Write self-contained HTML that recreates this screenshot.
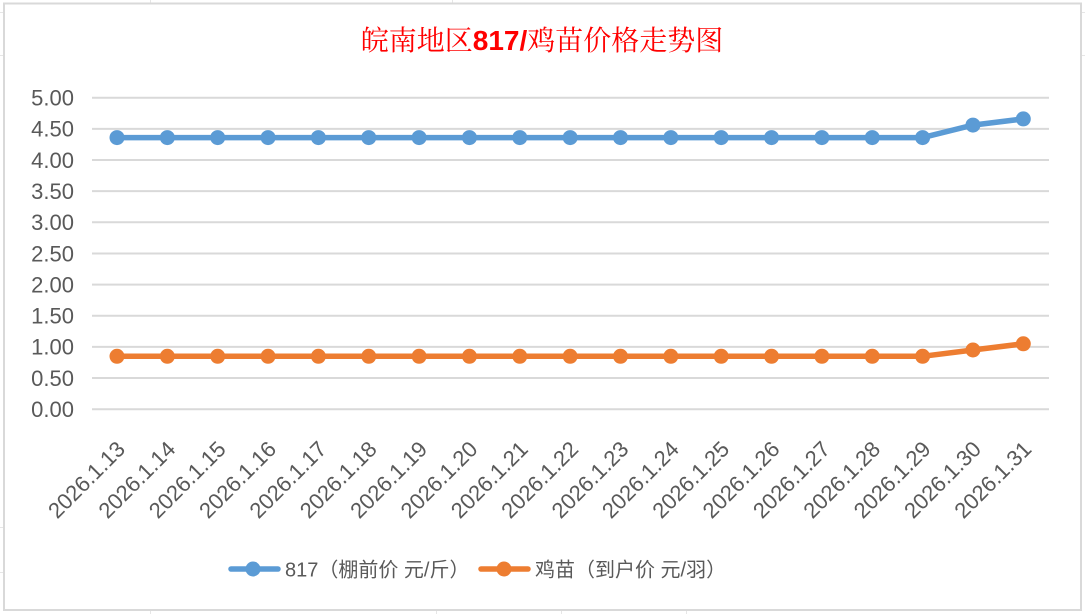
<!DOCTYPE html>
<html>
<head>
<meta charset="utf-8">
<style>
html,body{margin:0;padding:0;background:#fff;}
svg{display:block;}
</style>
</head>
<body>
<svg width="1085" height="614" viewBox="0 0 1085 614" xmlns="http://www.w3.org/2000/svg">
  <rect x="0" y="0" width="1085" height="614" fill="#fff"/>
  <!-- faint spreadsheet grid outside -->
  <g stroke="#e6e6e6" stroke-width="1">
    <line x1="150.5" y1="0" x2="150.5" y2="3"/>
    <line x1="452.5" y1="0" x2="452.5" y2="3"/>
    <line x1="0" y1="12.5" x2="3" y2="12.5"/>
    <line x1="0" y1="55.5" x2="3" y2="55.5"/>
    <line x1="0" y1="527.5" x2="3" y2="527.5"/>
    <line x1="0" y1="572.5" x2="3" y2="572.5"/>
    <line x1="1082" y1="12.5" x2="1085" y2="12.5"/>
    <line x1="1082" y1="55.5" x2="1085" y2="55.5"/>
    <line x1="150.5" y1="611" x2="150.5" y2="614"/>
    <line x1="436.5" y1="611" x2="436.5" y2="614"/>
    <line x1="561.5" y1="611" x2="561.5" y2="614"/>
    <line x1="686.5" y1="611" x2="686.5" y2="614"/>
  </g>
  <!-- chart area -->
  <rect x="4" y="3.5" width="1077" height="606.5" fill="#fff" stroke="#d9d9d9" stroke-width="2"/>

  <!-- title -->
  <text x="542" y="50" text-anchor="middle" fill="#ff0000" font-size="28" font-family="'Noto Serif CJK SC','Noto Sans CJK SC',serif">皖南地区<tspan font-family="'Liberation Sans',sans-serif" font-weight="bold">817/</tspan>鸡苗价格走势图</text>

  <!-- gridlines -->
  <g stroke="#d9d9d9" stroke-width="2">
    <line x1="92" y1="409.2" x2="1049" y2="409.2"/>
    <line x1="92" y1="378.05" x2="1049" y2="378.05"/>
    <line x1="92" y1="346.9" x2="1049" y2="346.9"/>
    <line x1="92" y1="315.75" x2="1049" y2="315.75"/>
    <line x1="92" y1="284.6" x2="1049" y2="284.6"/>
    <line x1="92" y1="253.45" x2="1049" y2="253.45"/>
    <line x1="92" y1="222.3" x2="1049" y2="222.3"/>
    <line x1="92" y1="191.15" x2="1049" y2="191.15"/>
    <line x1="92" y1="160" x2="1049" y2="160"/>
    <line x1="92" y1="128.85" x2="1049" y2="128.85"/>
    <line x1="92" y1="97.7" x2="1049" y2="97.7"/>
  </g>

  <!-- y labels -->
  <g fill="#595959" font-size="22" font-family="'Liberation Sans',sans-serif" text-anchor="end">
    <text x="74" y="417">0.00</text>
    <text x="74" y="385.85">0.50</text>
    <text x="74" y="354.7">1.00</text>
    <text x="74" y="323.55">1.50</text>
    <text x="74" y="292.4">2.00</text>
    <text x="74" y="261.25">2.50</text>
    <text x="74" y="230.1">3.00</text>
    <text x="74" y="198.95">3.50</text>
    <text x="74" y="167.8">4.00</text>
    <text x="74" y="136.65">4.50</text>
    <text x="74" y="105.5">5.00</text>
  </g>

  <!-- x labels -->
  <g fill="#595959" font-size="22" font-family="'Liberation Sans',sans-serif" text-anchor="end">
    <text transform="translate(121,445) rotate(-45)" dy="0.35em">2026.1.13</text>
    <text transform="translate(171.35,445) rotate(-45)" dy="0.35em">2026.1.14</text>
    <text transform="translate(221.7,445) rotate(-45)" dy="0.35em">2026.1.15</text>
    <text transform="translate(272.05,445) rotate(-45)" dy="0.35em">2026.1.16</text>
    <text transform="translate(322.4,445) rotate(-45)" dy="0.35em">2026.1.17</text>
    <text transform="translate(372.75,445) rotate(-45)" dy="0.35em">2026.1.18</text>
    <text transform="translate(423.1,445) rotate(-45)" dy="0.35em">2026.1.19</text>
    <text transform="translate(473.45,445) rotate(-45)" dy="0.35em">2026.1.20</text>
    <text transform="translate(523.8,445) rotate(-45)" dy="0.35em">2026.1.21</text>
    <text transform="translate(574.15,445) rotate(-45)" dy="0.35em">2026.1.22</text>
    <text transform="translate(624.5,445) rotate(-45)" dy="0.35em">2026.1.23</text>
    <text transform="translate(674.85,445) rotate(-45)" dy="0.35em">2026.1.24</text>
    <text transform="translate(725.2,445) rotate(-45)" dy="0.35em">2026.1.25</text>
    <text transform="translate(775.55,445) rotate(-45)" dy="0.35em">2026.1.26</text>
    <text transform="translate(825.9,445) rotate(-45)" dy="0.35em">2026.1.27</text>
    <text transform="translate(876.25,445) rotate(-45)" dy="0.35em">2026.1.28</text>
    <text transform="translate(926.6,445) rotate(-45)" dy="0.35em">2026.1.29</text>
    <text transform="translate(976.95,445) rotate(-45)" dy="0.35em">2026.1.30</text>
    <text transform="translate(1027.3,445) rotate(-45)" dy="0.35em">2026.1.31</text>
  </g>

  <!-- blue series 817 -->
  <polyline fill="none" stroke="#5b9bd5" stroke-width="5.5" stroke-linejoin="round" stroke-linecap="round"
    points="117,137.6 167.35,137.6 217.7,137.6 268.05,137.6 318.4,137.6 368.75,137.6 419.1,137.6 469.45,137.6 519.8,137.6 570.15,137.6 620.5,137.6 670.85,137.6 721.2,137.6 771.55,137.6 821.9,137.6 872.25,137.6 922.6,137.6 972.95,125.1 1023.3,118.9"/>
  <g fill="#5b9bd5">
    <circle cx="117" cy="137.6" r="7.5"/>
    <circle cx="167.35" cy="137.6" r="7.5"/>
    <circle cx="217.7" cy="137.6" r="7.5"/>
    <circle cx="268.05" cy="137.6" r="7.5"/>
    <circle cx="318.4" cy="137.6" r="7.5"/>
    <circle cx="368.75" cy="137.6" r="7.5"/>
    <circle cx="419.1" cy="137.6" r="7.5"/>
    <circle cx="469.45" cy="137.6" r="7.5"/>
    <circle cx="519.8" cy="137.6" r="7.5"/>
    <circle cx="570.15" cy="137.6" r="7.5"/>
    <circle cx="620.5" cy="137.6" r="7.5"/>
    <circle cx="670.85" cy="137.6" r="7.5"/>
    <circle cx="721.2" cy="137.6" r="7.5"/>
    <circle cx="771.55" cy="137.6" r="7.5"/>
    <circle cx="821.9" cy="137.6" r="7.5"/>
    <circle cx="872.25" cy="137.6" r="7.5"/>
    <circle cx="922.6" cy="137.6" r="7.5"/>
    <circle cx="972.95" cy="125.1" r="7.5"/>
    <circle cx="1023.3" cy="118.9" r="7.5"/>
  </g>

  <!-- orange series 鸡苗 -->
  <polyline fill="none" stroke="#ed7d31" stroke-width="5.5" stroke-linejoin="round" stroke-linecap="round"
    points="117,356.3 167.35,356.3 217.7,356.3 268.05,356.3 318.4,356.3 368.75,356.3 419.1,356.3 469.45,356.3 519.8,356.3 570.15,356.3 620.5,356.3 670.85,356.3 721.2,356.3 771.55,356.3 821.9,356.3 872.25,356.3 922.6,356.3 972.95,350 1023.3,343.8"/>
  <g fill="#ed7d31">
    <circle cx="117" cy="356.3" r="7.5"/>
    <circle cx="167.35" cy="356.3" r="7.5"/>
    <circle cx="217.7" cy="356.3" r="7.5"/>
    <circle cx="268.05" cy="356.3" r="7.5"/>
    <circle cx="318.4" cy="356.3" r="7.5"/>
    <circle cx="368.75" cy="356.3" r="7.5"/>
    <circle cx="419.1" cy="356.3" r="7.5"/>
    <circle cx="469.45" cy="356.3" r="7.5"/>
    <circle cx="519.8" cy="356.3" r="7.5"/>
    <circle cx="570.15" cy="356.3" r="7.5"/>
    <circle cx="620.5" cy="356.3" r="7.5"/>
    <circle cx="670.85" cy="356.3" r="7.5"/>
    <circle cx="721.2" cy="356.3" r="7.5"/>
    <circle cx="771.55" cy="356.3" r="7.5"/>
    <circle cx="821.9" cy="356.3" r="7.5"/>
    <circle cx="872.25" cy="356.3" r="7.5"/>
    <circle cx="922.6" cy="356.3" r="7.5"/>
    <circle cx="972.95" cy="350" r="7.5"/>
    <circle cx="1023.3" cy="343.8" r="7.5"/>
  </g>

  <!-- legend -->
  <line x1="231" y1="569" x2="278" y2="569" stroke="#5b9bd5" stroke-width="5.5" stroke-linecap="round"/>
  <circle cx="253" cy="569" r="7.5" fill="#5b9bd5"/>
  <text x="285" y="576.5" fill="#595959" font-size="20" font-family="'Liberation Sans','Noto Sans CJK SC',sans-serif">817（棚前价 元/斤）</text>

  <line x1="481" y1="569" x2="528" y2="569" stroke="#ed7d31" stroke-width="5.5" stroke-linecap="round"/>
  <circle cx="504" cy="569" r="7.5" fill="#ed7d31"/>
  <text x="535" y="576.5" fill="#595959" font-size="20" font-family="'Liberation Sans','Noto Sans CJK SC',sans-serif">鸡苗（到户价 元/羽）</text>
</svg>
</body>
</html>
